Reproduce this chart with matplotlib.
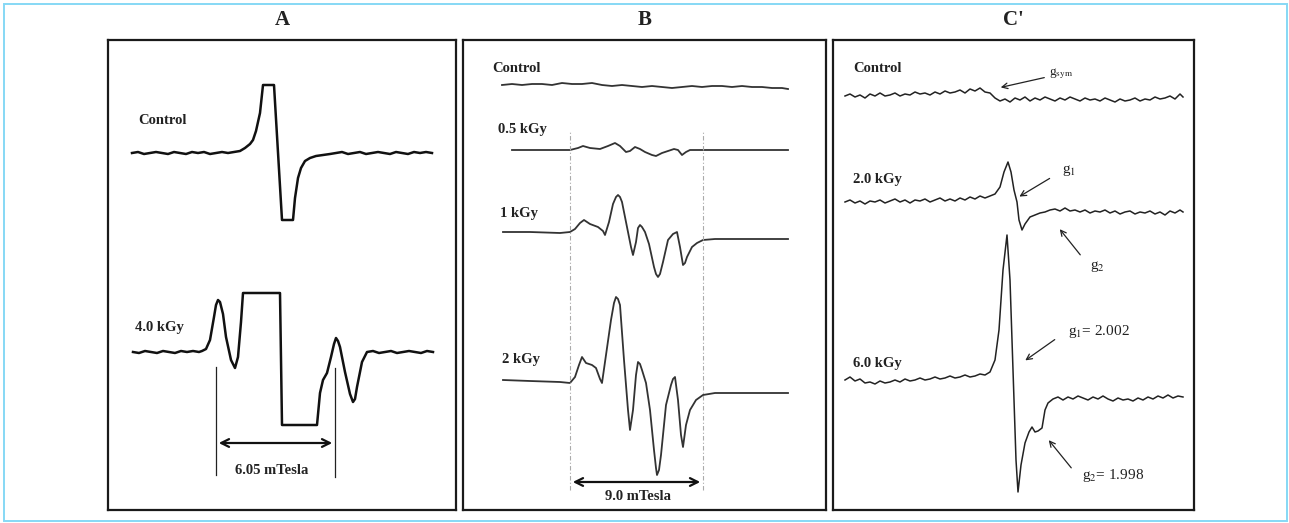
import matplotlib
matplotlib.use('Agg')
from matplotlib import pyplot as plt
from matplotlib.patches import Rectangle

plt.rcParams['font.family'] = ['Liberation Serif', 'DejaVu Serif']
plt.rcParams['mathtext.fontset'] = 'stix'

# ---- panel A : field (a.u. from box left), signal (a.u. from baseline) ----
a_ctrl_x = [24, 30, 36, 42, 48, 54, 60, 66, 72, 78, 84, 90, 96, 102, 108, 114, 120, 126, 132,
            137, 142, 145, 148, 152, 155, 166, 174, 185, 187, 190, 193, 197, 202, 208, 215, 222,
            228, 234, 240, 246, 252, 258, 264, 270, 276, 282, 288, 294, 300, 306, 312, 318, 324]
a_ctrl_y = [0, 1, -1, 0, 1, 0, -1, 1, 0, -1, 1, 0, 1, -1, 0, 1, 0, 1, 2,
            5, 9, 13, 22, 40, 68, 68, -67, -67, -45, -25, -15, -8, -5, -3, -2, -1,
            0, 1, -1, 0, 1, -1, 0, 1, 0, -1, 1, 0, -1, 1, 0, 1, 0]
a_4kgy_x = [25, 31, 37, 43, 49, 55, 61, 67, 73, 79, 85, 91, 94, 98, 102, 106, 108, 110, 112,
            115, 118, 123, 127, 130, 133, 135, 172, 174, 209, 212, 215, 219, 223, 226, 228, 230,
            232, 237, 242, 245, 247, 249, 254, 259, 265, 271, 277, 283, 289, 295, 301, 307, 313,
            319, 325]
a_4kgy_y = [0, -1, 1, 0, -1, 1, 0, -1, 1, 0, 1, 0, 1, 3, 12, 35, 47, 52, 50,
            38, 15, -8, -16, -5, 30, 59, 59, -73, -73, -41, -28, -21, -5, 8, 14, 11,
            5, -20, -42, -50, -47, -35, -10, 0, 1, -1, 0, 1, -1, 0, 1, 0, -1,
            1, 0]

# ---- panel B ----
b_ctrl_x = [39, 49, 59, 69, 79, 89, 99, 109, 119, 129, 139, 149, 159, 169, 179, 189, 199, 209,
            219, 229, 239, 249, 259, 269, 279, 289, 299, 309, 319, 325]
b_ctrl_y = [2, 3, 2, 3, 3, 2, 4, 3, 3, 4, 2, 1, 2, 1, 0, 1, 0, -1, 0, 1, 0, 1, 1, 0, 1, 0, 0,
            -1, -1, -2]
b_05_x = [49, 77, 107, 115, 120, 127, 137, 145, 152, 157, 163, 167, 172, 177, 182, 189, 193,
          199, 205, 211, 215, 219, 223, 227, 260, 290, 325]
b_05_y = [0, 0, 0, 2, 4, 2, 1, 4, 7, 4, -2, -1, 3, 1, -2, -5, -6, -3, -1, 1, 0, -5, -2, 0,
          0, 0, 0]
b_1_x = [40, 67, 97, 107, 112, 117, 121, 127, 135, 140, 142, 146, 150, 153, 155, 157, 159, 164,
         168, 170, 173, 175, 177, 179, 182, 186, 191, 193, 195, 197, 200, 205, 210, 214, 217, 220,
         222, 224, 229, 234, 240, 252, 290, 325]
b_1_y = [0, 0, -1, 0, 3, 9, 12, 8, 5, 1, -3, 10, 28, 35, 37, 35, 30, 5, -15, -23, -10, 4, 7,
         5, 0, -12, -35, -42, -45, -42, -30, -8, -2, 0, -15, -33, -31, -25, -15, -11, -8, -7,
         -7, -7]
b_2_x = [40, 67, 97, 107, 112, 116, 119, 123, 129, 133, 137, 139, 143, 148, 151, 153, 155, 157,
         161, 165, 167, 170, 173, 175, 177, 179, 183, 187, 191, 193, 194, 196, 198, 203, 208, 210,
         212, 215, 218, 220, 223, 227, 233, 240, 252, 290, 325]
b_2_y = [0, -1, -2, -3, 3, 15, 23, 17, 15, 12, 1, -3, 25, 60, 77, 83, 81, 75, 20, -30, -50, -30,
         5, 18, 16, 10, -3, -30, -70, -88, -95, -90, -75, -25, -5, 1, 3, -20, -55, -67, -45, -30,
         -20, -15, -13, -13, -13]

# ---- panel C ----
c_grid = [12, 17, 22, 27, 32, 37, 42, 47, 52, 57, 62, 67, 72, 77, 82, 87, 92, 97, 102, 107,
          112, 117, 122, 127, 132, 137, 142, 147, 152, 157, 162, 167, 172, 177, 182, 187, 192,
          197, 202, 207, 212, 217, 222, 227, 232, 237, 242, 247, 252, 257, 262, 267, 272, 277,
          282, 287, 292, 297, 302, 307, 312, 317, 322, 327, 332, 337, 342, 347, 350]
c_ctrl_y = [-1, 1, -2, 0, -3, 1, -1, 2, -1, 0, 2, -1, 1, 0, 3, 1, 2, 0, 3, 1, 4, 2, 3, 5, 2, 6,
            4, 7, 3, 2, -3, -6, -4, -7, -3, -5, -2, -6, -3, -5, -2, -4, -6, -3, -5, -2, -4, -6,
            -3, -5, -4, -6, -3, -5, -7, -4, -6, -5, -3, -6, -4, -5, -2, -4, -3, -1, -4, 1, -2]
c_2kgy_x = [12, 17, 22, 27, 32, 37, 42, 47, 52, 57, 62, 67, 72, 77, 82, 87, 92, 97, 102, 107,
            112, 117, 122, 127, 132, 137, 142, 147, 152, 157, 162, 167, 171, 175, 178, 181, 184,
            186, 189, 192, 197, 202, 207, 212, 217, 222, 227, 232, 237, 242, 247, 252, 257, 262,
            267, 272, 277, 282, 287, 292, 297, 302, 307, 312, 317, 322, 327, 332, 337, 342, 347,
            350]
c_2kgy_y = [0, 2, -1, 1, -2, 1, 0, 2, -1, 1, 3, 0, 2, -1, 2, 1, 3, 0, 2, 4, 1, 3, 1, 4, 2, 5,
            3, 6, 4, 6, 8, 15, 30, 40, 30, 12, 0, -18, -28, -22, -15, -13, -11, -10, -8, -7, -9,
            -6, -9, -8, -10, -8, -11, -9, -10, -8, -11, -9, -12, -10, -9, -12, -10, -11, -9, -12,
            -10, -13, -9, -11, -8, -10]
c_6kgy_x = [12, 17, 22, 27, 32, 37, 42, 47, 52, 57, 62, 67, 72, 77, 82, 87, 92, 97, 102, 107,
            112, 117, 122, 127, 132, 137, 142, 147, 152, 157, 162, 166, 170, 174, 177, 180, 183,
            185, 188, 192, 196, 199, 202, 205, 209, 212, 215, 220, 225, 230, 235, 240, 245, 250,
            255, 260, 265, 270, 275, 280, 285, 290, 295, 300, 305, 310, 315, 320, 325, 330, 335,
            340, 345, 350]
c_6kgy_y = [0, 3, -1, 1, -3, -2, -4, -1, -3, -2, 0, -2, 1, -1, 0, 2, 0, 1, 3, 1, 2, 4, 2, 3, 5,
            3, 4, 6, 5, 8, 20, 50, 110, 145, 100, 10, -80, -112, -85, -63, -52, -47, -52, -51,
            -48, -30, -23, -19, -17, -20, -17, -19, -16, -18, -20, -17, -19, -16, -19, -21, -18,
            -20, -19, -21, -18, -20, -17, -19, -16, -18, -15, -18, -16, -17]

# layout (pixels of the original figure)
W_FIG, H_FIG = 1289, 523
BOX_TOP, BOX_BOT = 40, 510
H = BOX_BOT - BOX_TOP


def make_panel(left, right, title):
    ax = fig.add_axes([left / W_FIG, (H_FIG - BOX_BOT) / H_FIG,
                       (right - left) / W_FIG, H / H_FIG])
    ax.set_xlim(0, right - left)
    ax.set_ylim(0, H)
    ax.set_xticks([])
    ax.set_yticks([])
    for s in ax.spines.values():
        s.set_linewidth(1.6)
        s.set_color('#1a1a1a')
    ax.text(0.5, 1 + 20 / H, title, transform=ax.transAxes, ha='center', va='center',
            fontsize=15, fontweight='bold', color='#222')
    return ax


def label(ax, x, y, s, size=10.5):
    ax.text(x, y, s, ha='left', va='center', fontsize=size, fontweight='bold', color='#222')


fig = plt.figure(figsize=(W_FIG / 100, H_FIG / 100), dpi=100)
fig.patches.append(Rectangle((4 / W_FIG, 2 / H_FIG), 1283 / W_FIG, 517 / H_FIG,
                             transform=fig.transFigure, fill=False, ec='#86d8f5', lw=1.4))

# ---- A ----
axA = make_panel(108, 456, 'A')
axA.plot(a_ctrl_x, [v + 357 for v in a_ctrl_y], color='#111', lw=1.8)
axA.plot(a_4kgy_x, [v + 158 for v in a_4kgy_y], color='#111', lw=1.8)
label(axA, 30, 390, 'Control')
label(axA, 27, 183, '4.0 kGy')
axA.plot([108, 108], [35, 143], color='#222', lw=0.9)
axA.plot([227, 227], [33, 142], color='#222', lw=0.9)
axA.annotate('', xy=(108, 67), xytext=(227, 67),
             arrowprops=dict(arrowstyle='<->', lw=1.6, color='#111', mutation_scale=14))
axA.text(164, 40, '6.05 mTesla', ha='center', va='center', fontsize=10.5,
         fontweight='bold', color='#222')

# ---- B ----
axB = make_panel(463, 826, 'B')
for xs, ys, off in [(b_ctrl_x, b_ctrl_y, 423), (b_05_x, b_05_y, 360),
                    (b_1_x, b_1_y, 278), (b_2_x, b_2_y, 130)]:
    axB.plot(xs, [v + off for v in ys], color='#333', lw=1.3)
for xv in (107, 240):
    axB.plot([xv, xv], [20, 378], color='#aaa', lw=0.8, ls=(0, (4, 2, 1, 2)))
label(axB, 29, 442, 'Control')
label(axB, 35, 380, '0.5 kGy')
label(axB, 37, 297, '1 kGy')
label(axB, 39, 150, '2 kGy')
axB.annotate('', xy=(107, 28), xytext=(240, 28),
             arrowprops=dict(arrowstyle='<->', lw=1.6, color='#111', mutation_scale=14))
axB.text(175, 14, '9.0 mTesla', ha='center', va='center', fontsize=10.5,
         fontweight='bold', color='#222')

# ---- C' ----
axC = make_panel(833, 1194, "C'")
axC.plot(c_grid, [v + 415 for v in c_ctrl_y], color='#222', lw=1.1)
axC.plot(c_2kgy_x, [v + 308 for v in c_2kgy_y], color='#222', lw=1.1)
axC.plot(c_6kgy_x, [v + 130 for v in c_6kgy_y], color='#222', lw=1.1)
label(axC, 20, 442, 'Control')
label(axC, 20, 330, '2.0 kGy')
label(axC, 20, 147, '6.0 kGy')

notes = [
    (r'g$_{\mathrm{sym}}$', (214, 433), (165, 422), (216, 436), 9.5),
    (r'g$_{1}$', (219, 333), (184, 312), (229, 339), 11),
    (r'g$_{2}$', (249, 253), (225, 283), (257, 244), 11),
    (r'g$_{1}$= 2.002', (224, 172), (190, 148), (235, 178), 11),
    (r'g$_{2}$= 1.998', (240, 40), (214, 72), (249, 35), 11),
]
for txt, tail, tip, pos, sz in notes:
    axC.annotate('', xy=tip, xytext=tail,
                 arrowprops=dict(arrowstyle='->', lw=0.9, color='#222', mutation_scale=10))
    axC.text(pos[0], pos[1], txt, ha='left', va='center', fontsize=sz, color='#222')

fig.savefig('out.png', dpi=100)
